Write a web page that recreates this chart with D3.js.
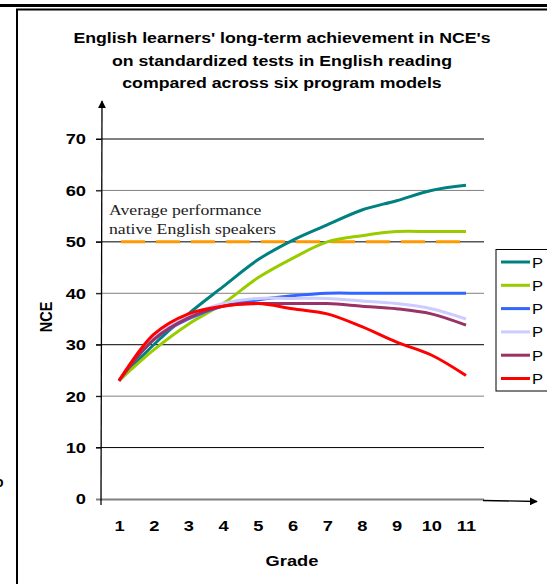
<!DOCTYPE html>
<html>
<head>
<meta charset="utf-8">
<script src="https://cdn.jsdelivr.net/npm/d3@7"></script>
<style>
  body { margin: 0; background: #fff; }
  svg { display: block; }
</style>
</head>
<body>
<div id="vis"></div>
<script>
const FRAME_WIDTH = 547;
const FRAME_HEIGHT = 584;
const STRETCH = 1.18; // the source picture is a little wider than tall

// data
const GRADES = [1, 2, 3, 4, 5, 6, 7, 8, 9, 10, 11];
const Y_TICKS = [0, 10, 20, 30, 40, 50, 60, 70];
const TEAL_VALUES     = [23, 30, 36, 41.3, 46.5, 50.3, 53.3, 56.2, 58, 60, 61];
const GREEN_VALUES    = [23, 29, 34, 38, 43, 46.8, 50, 51.2, 52, 52, 52];
const BLUE_VALUES     = [23, 31, 35, 37.5, 38.7, 39.5, 40, 40, 40, 40, 40];
const LAVENDER_VALUES = [23, 31.5, 35.5, 38, 39, 39, 39, 38.5, 38, 37, 35];
const PURPLE_VALUES   = [23, 31, 35.2, 37.5, 38, 38, 38, 37.5, 37, 36, 33.8];
const RED_VALUES      = [23, 32, 36, 37.5, 38, 37, 36, 33.5, 30.5, 28, 24];
const NATIVE_VALUES   = [50, 50, 50, 50, 50, 50, 50, 50, 50, 50, 50];
const SERIES_COLORS = ["#008080", "#99cc00", "#3366ff", "#ccccff", "#993366", "#ff0000"];
const LEGEND_LABELS = ["P", "P", "P", "P", "P", "P"];
const TITLE_LINES = ["English learners' long-term achievement in NCE's",
                     "on standardized tests in English reading",
                     "compared across six program models"];

const SERIES = [TEAL_VALUES, GREEN_VALUES, BLUE_VALUES, LAVENDER_VALUES, PURPLE_VALUES, RED_VALUES];

// widen a text horizontally around its anchor point
function stretch(sel, x, y) {
  sel.attr("transform", "translate(" + x + "," + y + ") scale(" + STRETCH + ",1) translate(" + (-x) + "," + (-y) + ")");
}

const SVG = d3.select("#vis")
              .append("svg")
              .attr("width", FRAME_WIDTH)
              .attr("height", FRAME_HEIGHT)
              .style("font-family", "'Liberation Sans', Arial, sans-serif");

// frame
SVG.append("line").attr("x1", 0).attr("x2", FRAME_WIDTH).attr("y1", 5.5).attr("y2", 5.5)
   .attr("stroke", "#000").attr("stroke-width", 3);
SVG.append("path").attr("d", "M547,9.5H17V584")
   .attr("fill", "none").attr("stroke", "#000").attr("stroke-width", 2);

// clipped glyph at the left edge
SVG.append("text").attr("x", -5).attr("y", 487).attr("font-size", 14)
   .attr("font-weight", "bold").text("o");

const X_SCALE = d3.scaleLinear().domain([1, 11]).range([119, 466]);
const Y_SCALE = d3.scaleLinear().domain([0, 70]).range([499, 139]);

// title
SVG.append("text")
   .attr("text-anchor", "middle")
   .attr("font-size", 15).attr("font-weight", "bold")
   .call(stretch, 282, 0)
   .selectAll("tspan")
   .data(TITLE_LINES)
   .enter()
   .append("tspan")
     .attr("x", 282)
     .attr("y", (d, i) => 43.5 + i * 22.5)
     .text((d) => d);

// gridlines (alternating grey / black like the source)
SVG.append("g")
   .selectAll("line")
   .data(Y_TICKS.filter((d) => d > 0))
   .enter()
   .append("line")
     .attr("x1", 96).attr("x2", 484)
     .attr("y1", (d) => Y_SCALE(d)).attr("y2", (d) => Y_SCALE(d))
     .attr("stroke", (d) => (d / 10) % 2 === 1 ? "#000" : "#808080")
     .attr("stroke-width", 1);

// y axis
const Y_AXIS = SVG.append("g")
   .attr("transform", "translate(101,0)")
   .call(d3.axisLeft(Y_SCALE).tickValues(Y_TICKS).tickSize(5).tickPadding(10));
Y_AXIS.select(".domain").remove();
Y_AXIS.selectAll("line").attr("stroke", "#000");
Y_AXIS.selectAll("text")
      .attr("font-size", 15.5).attr("font-weight", "bold")
      .attr("font-family", "'Liberation Sans', Arial, sans-serif")
      .attr("fill", "#000")
      .each(function() { d3.select(this).call(stretch, -15, 0); });

// x axis
const X_AXIS = SVG.append("g")
   .attr("transform", "translate(0,499)")
   .call(d3.axisBottom(X_SCALE).tickValues(GRADES).tickFormat(d3.format("d")).tickSize(0).tickPadding(21));
X_AXIS.select(".domain").remove();
X_AXIS.selectAll("text")
      .attr("font-size", 15.5).attr("font-weight", "bold")
      .attr("font-family", "'Liberation Sans', Arial, sans-serif")
      .attr("fill", "#000")
      .each(function() { d3.select(this).call(stretch, 0, 0); });

SVG.append("line").attr("x1", 96).attr("x2", 484).attr("y1", 499.5).attr("y2", 499.5)
   .attr("stroke", "#808080").attr("stroke-width", 2);

// arrows
const defs = SVG.append("defs");
defs.append("marker")
    .attr("id", "arrow")
    .attr("viewBox", "0 0 10 10")
    .attr("refX", 9).attr("refY", 5)
    .attr("markerWidth", 8).attr("markerHeight", 8)
    .attr("markerUnits", "userSpaceOnUse")
    .attr("orient", "auto")
    .append("path").attr("d", "M0,0L10,5L0,10z").attr("fill", "#000");

SVG.append("line").attr("x1", 101).attr("y1", 505).attr("x2", 102).attr("y2", 101)
   .attr("stroke", "#000").attr("stroke-width", 1.3).attr("marker-end", "url(#arrow)");
SVG.append("line").attr("x1", 483).attr("y1", 500.5).attr("x2", 537).attr("y2", 501.5)
   .attr("stroke", "#000").attr("stroke-width", 1.3).attr("marker-end", "url(#arrow)");

// axis titles
SVG.append("text")
   .attr("transform", "translate(52,317) rotate(-90) scale(1," + STRETCH + ")")
   .attr("text-anchor", "middle")
   .attr("font-size", 14.5).attr("font-weight", "bold")
   .text("NCE");
SVG.append("text")
   .attr("x", 292).attr("y", 566)
   .attr("text-anchor", "middle")
   .attr("font-size", 15.5).attr("font-weight", "bold")
   .call(stretch, 292, 0)
   .text("Grade");

// native speaker reference line
const LINE = d3.line()
               .x((d, i) => X_SCALE(GRADES[i]))
               .y((d) => Y_SCALE(d));

SVG.append("path")
   .attr("d", LINE(NATIVE_VALUES))
   .attr("fill", "none")
   .attr("stroke", "#ff9900")
   .attr("stroke-width", 3)
   .attr("stroke-dasharray", "24,11")
   .attr("stroke-dashoffset", -2);

SVG.append("text")
   .attr("font-family", "'Liberation Serif', 'Times New Roman', serif")
   .attr("font-size", 15).attr("fill", "#222")
   .call(stretch, 109, 0)
   .selectAll("tspan")
   .data(["Average performance", "native English speakers"])
   .enter()
   .append("tspan")
     .attr("x", 109)
     .attr("y", (d, i) => 215 + i * 19)
     .text((d) => d);

// series
const SMOOTH = d3.line()
                 .x((d, i) => X_SCALE(GRADES[i]))
                 .y((d) => Y_SCALE(d))
                 .curve(d3.curveCatmullRom.alpha(0.5));

SVG.append("g")
   .selectAll("path")
   .data(SERIES)
   .enter()
   .append("path")
     .attr("d", (d) => SMOOTH(d))
     .attr("fill", "none")
     .attr("stroke", (d, i) => SERIES_COLORS[i])
     .attr("stroke-width", 3)
     .attr("stroke-linejoin", "round");

// legend
SVG.append("rect")
   .attr("x", 496).attr("y", 249.5)
   .attr("width", 60).attr("height", 141.5)
   .attr("fill", "#fff").attr("stroke", "#000").attr("stroke-width", 1);

const LEGEND = SVG.append("g")
   .selectAll("g")
   .data(LEGEND_LABELS)
   .enter()
   .append("g")
     .attr("transform", (d, i) => "translate(0," + (262 + i * 23.3) + ")");
LEGEND.append("line")
      .attr("x1", 501).attr("x2", 530)
      .attr("stroke", (d, i) => SERIES_COLORS[i])
      .attr("stroke-width", 3);
LEGEND.append("text")
      .attr("x", 532).attr("y", 5.5)
      .attr("font-size", 14)
      .call(stretch, 532, 0)
      .text((d) => d);
</script>
</body>
</html>
